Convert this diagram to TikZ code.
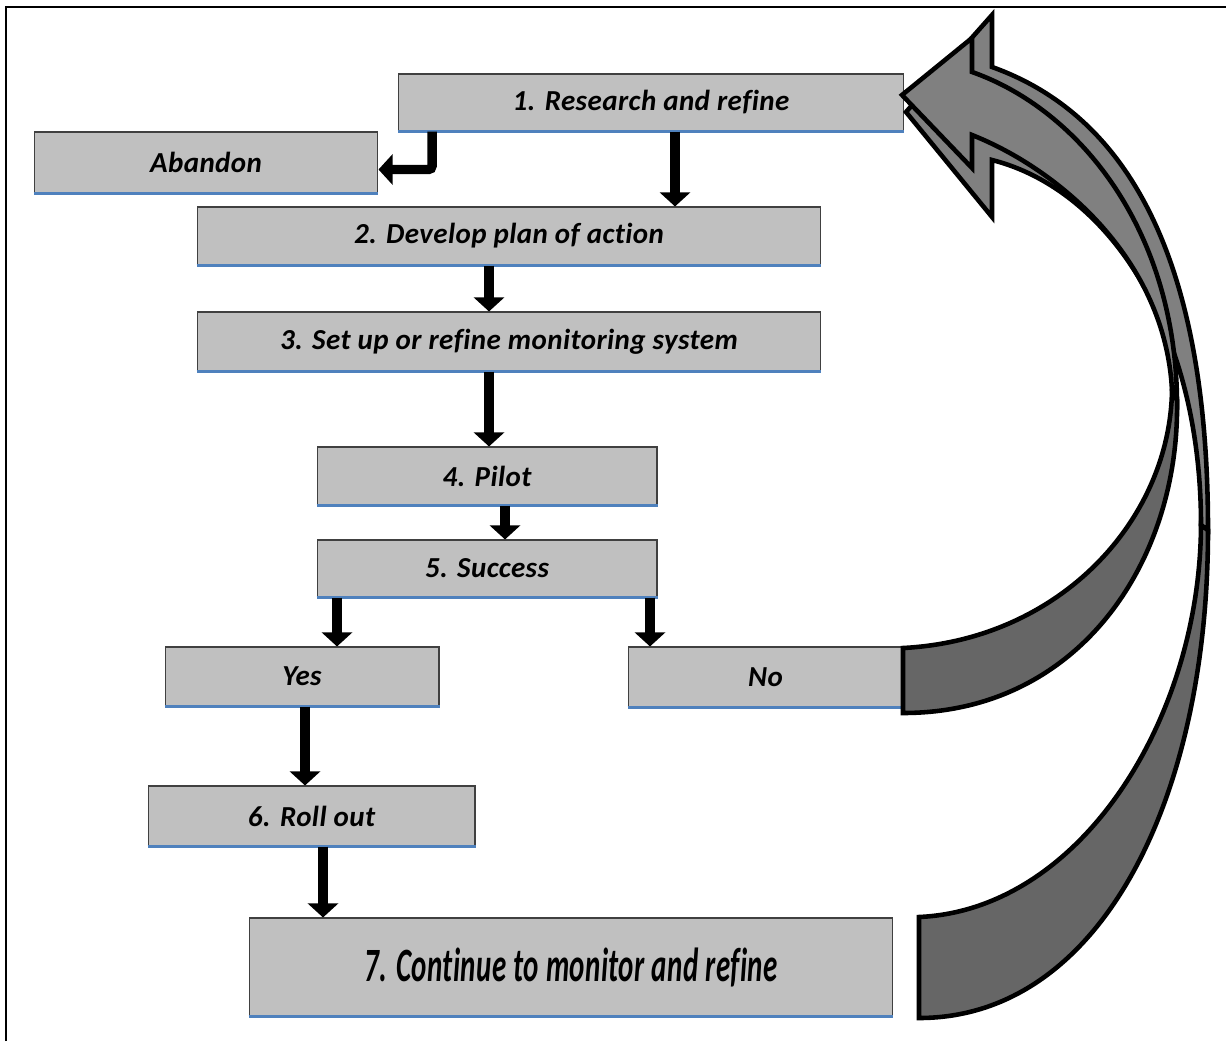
\documentclass[tikz,border=0pt]{standalone}
\usepackage{fontspec}
\setmainfont{Carlito}[Ligatures=NoCommon, LetterSpace=1.5]
\usepackage{graphicx}
\usetikzlibrary{arrows.meta,calc}
\definecolor{boxgray}{HTML}{C0C0C0}
\definecolor{boxline}{HTML}{4F81BD}
\definecolor{bandlight}{HTML}{808080}
\definecolor{banddark}{HTML}{666666}
\tikzset{
    block/.style = {
        draw=black!75,
        fill=boxgray,
        shape=rectangle,
        inner sep=0pt,
        line width=0.6pt,
        font=\bfseries\itshape\fontsize{16.5}{19}\selectfont,
        append after command={
            (\tikzlastnode.south west) edge[draw=boxline, line width=1.3pt]
            (\tikzlastnode.south east)
        }
    },
    flow/.style = {
        line width=5.4pt,
        -{Triangle[width=17pt,length=8pt]}
    },
    band/.style = {
        draw=black,
        line width=2.6pt,
        line join=miter
    },
}

\begin{document}
\begin{tikzpicture}[x=0.02cm, y=-0.02cm]
            \useasboundingbox (0,0) rectangle (1226,1041);
            \path[draw, line width=1.2pt] (6,1041) -- (6,7) -- (1226,7);

            \node[block, minimum width=10.12cm, minimum height=1.14cm] (research) at (651,102.5) {1. Research and refine};
            \node[block, minimum width=6.88cm, minimum height=1.22cm] (abandon) at (206,162.5) {Abandon};
            \node[block, minimum width=12.48cm, minimum height=1.16cm] (develop) at (509,236) {2. Develop plan of action};
            \node[block, minimum width=12.48cm, minimum height=1.18cm] (monitor) at (509,341.5) {3. Set up or refine monitoring system};
            \node[block, minimum width=6.8cm, minimum height=1.16cm] (pilot) at (487,476) {4. Pilot};
            \node[block, minimum width=6.8cm, minimum height=1.14cm] (success) at (487,568.5) {5. Success};
            \node[block, minimum width=5.48cm, minimum height=1.18cm] (yes) at (302,676.5) {Yes};
            \node[block, minimum width=5.5cm, minimum height=1.2cm] (no) at (765.5,677) {No};
            \node[block, minimum width=6.54cm, minimum height=1.2cm] (rollout) at (311.5,816) {6. Roll out};
            \node[block, minimum width=12.88cm, minimum height=1.96cm] (continue) at (571,967)
            {\scalebox{1.0}[1.65]{7. Continue to monitor and refine}};

            \coordinate (r2d) at ($(research.south)+(24,0)$);
            \coordinate (r2a) at ($(research.south)+(-219,0)$);
            \coordinate (d2m) at ($(develop.south)+(-20,0)$);
            \coordinate (m2p) at ($(monitor.south)+(-20,0)$);
            \coordinate (p2s) at ($(pilot.south)+(18,0)$);
            \coordinate (s2y) at ($(success.south)+(-150,0)$);
            \coordinate (s2n) at ($(success.south)+(163,0)$);
            \coordinate (y2r) at ($(yes.south)+(3,0)$);
            \coordinate (r2c) at ($(rollout.south)+(11.5,0)$);

            \path[draw, flow] (r2d) -- (r2d |- develop.north);
            \path[draw, flow, rounded corners=2pt] (r2a) |- ($(abandon.east)+(0,7)$);
            \path[draw, flow] (d2m) -- (d2m |- monitor.north);
            \path[draw, flow] (m2p) -- (m2p |- pilot.north);
            \path[draw, flow] (p2s) -- (p2s |- success.north);
            \path[draw, flow] (s2y) -- (s2y |- yes.north);
            \path[draw, flow] (s2n) -- (s2n |- no.north);
            \path[draw, flow] (y2r) -- (y2r |- rollout.north);
            \path[draw, flow] (r2c) -- (r2c |- continue.north);

            % loop back from 7
            \path[band, fill=banddark] (919,917) -- (919,1018)
                .. controls (1100,1018) and (1208,800) .. (1208,530)
                -- (1201,525) .. controls (1200,720) and (1080,910) .. (919,917) -- cycle;
            \path[band, fill=bandlight] (1208,530) .. controls (1208,280) and (1140,120) .. (992,67)
                -- (992,15) -- (906,112) -- (992,217) -- (992,160)
                .. controls (1110,190) and (1201,330) .. (1201,525) -- cycle;

            % loop back from No
            \path[band, fill=banddark] (903,648) -- (903,713)
                .. controls (1080,713) and (1180,560) .. (1177,400)
                -- (1172,390) .. controls (1170,520) and (1060,640) .. (903,648) -- cycle;
            \path[band, fill=bandlight] (1177,400) .. controls (1175,230) and (1080,110) .. (972,72)
                -- (972,38) -- (902,95) -- (972,168) -- (972,135)
                .. controls (1060,170) and (1165,260) .. (1172,390) -- cycle;
        \end{tikzpicture}
\end{document}
